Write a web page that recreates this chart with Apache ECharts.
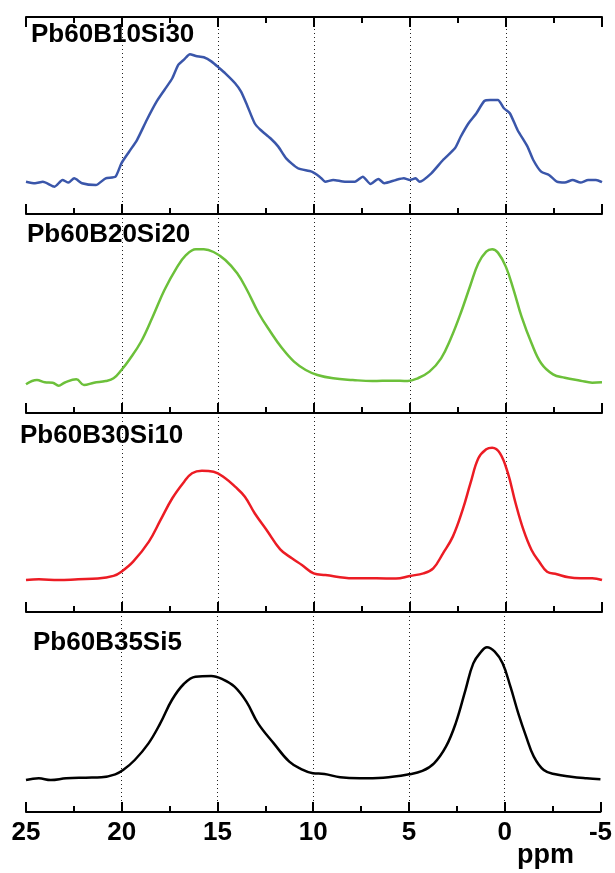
<!DOCTYPE html>
<html>
<head>
<meta charset="utf-8">
<script src="https://cdn.jsdelivr.net/npm/echarts@6/dist/echarts.min.js"></script>
<style>
  html, body { margin: 0; padding: 0; background: #fff; }
  #chart { width: 615px; height: 873px; }
</style>
</head>
<body>
<div id="chart"></div>
<script>
// 样品名称（从上到下）
const samples = ['Pb60B10Si30', 'Pb60B20Si20', 'Pb60B30Si10', 'Pb60B35Si5']
const colors = ['#3a56aa', '#6cc03a', '#ec1c24', '#000000']

// 化学位移 ppm 与强度（任意单位）
const ppm1 = [25, 24.53, 24.12, 23.51, 23.1, 22.79, 22.49, 22.08, 21.36, 20.85, 20.34, 20.03, 19.63, 19.22, 18.71, 18.2, 17.79, 17.38, 17.07, 16.76, 16.46, 16.15, 15.74, 15.33, 14.92, 14.62, 14.11, 13.8, 13.49, 13.09, 12.78, 12.27, 11.86, 11.45, 10.84, 10.12, 9.71, 9.41, 9.0, 8.39, 7.87, 7.46, 7.06, 6.65, 6.34, 5.73, 5.32, 5.01, 4.71, 4.5, 3.89, 3.28, 2.66, 2.36, 1.95, 1.54, 1.13, 0.82, 0.42, 0.11, -0.2, -0.6, -1.12, -1.42, -1.83, -2.24, -2.65, -3.06, -3.47, -3.88, -4.28, -4.69, -5]
const int1 = [0.4, -0.8, 0.4, -3.5, 1.8, -0.3, 3.1, -0.8, -2.2, 3.1, 4.4, 14.9, 24.0, 33.2, 49.0, 63.4, 72.6, 81.8, 92.3, 96.7, 100.7, 99.3, 98.3, 94.9, 89.7, 85.7, 77.9, 71.3, 60.8, 46.4, 41.1, 34.6, 28.0, 18.8, 11.0, 8.3, 4.4, 0.4, 1.8, 0.4, 0.4, 4.4, -1.4, 2.6, -0.8, 1.8, 3.1, 1.8, 3.1, 0.4, 7.0, 17.5, 26.7, 35.8, 46.4, 54.3, 63.9, 64.7, 64.7, 58.2, 54.3, 41.1, 28.0, 17.5, 8.3, 5.7, 0.4, -0.3, 1.8, -0.3, 1.8, 1.8, 0.0]

const ppm2 = [25, 24.43, 24.02, 23.61, 23.3, 23.0, 22.38, 21.98, 21.46, 20.85, 20.44, 20.03, 19.63, 19.01, 18.4, 17.79, 17.17, 16.66, 16.15, 15.74, 15.23, 14.62, 14.0, 13.49, 12.88, 12.27, 11.66, 11.04, 10.43, 9.82, 9.0, 7.98, 6.96, 5.93, 5.12, 4.6, 3.99, 3.38, 2.87, 2.36, 1.85, 1.44, 1.03, 0.72, 0.42, 0.01, -0.4, -0.81, -1.33, -1.83, -2.45, -3.06, -3.88, -4.49, -5]
const int2 = [-2.6, 0.7, -1.1, -1.4, -3.7, -1.4, 1.3, -3.2, -1.4, -0.1, 2.0, 8.5, 16.3, 30.5, 50.0, 70.8, 87.7, 98.1, 102.5, 102.5, 100.4, 94.2, 83.8, 70.8, 52.7, 38.3, 25.4, 15.0, 8.5, 4.6, 2.0, 0.7, -0.1, 0.2, -0.1, 2.0, 7.2, 17.6, 33.2, 52.7, 74.7, 91.6, 100.7, 102.5, 99.9, 89.0, 70.8, 50.0, 29.3, 13.7, 5.1, 2.5, 0.2, -1.4, -1.1]

const ppm3 = [25, 24.33, 23.3, 22.28, 21.26, 20.44, 20.03, 19.42, 18.6, 17.99, 17.38, 16.76, 16.35, 15.84, 15.23, 14.62, 14.11, 13.6, 13.09, 12.47, 11.76, 11.15, 10.63, 10.02, 9.41, 7.98, 6.75, 5.73, 5.01, 4.3, 3.79, 3.28, 2.77, 2.26, 1.85, 1.44, 1.03, 0.72, 0.31, -0.1, -0.5, -0.91, -1.33, -1.73, -2.14, -2.65, -3.26, -3.88, -4.49, -5]
const int3 = [-0.1, 0.5, -0.1, 0.5, 1.0, 3.1, 6.4, 14.2, 29.8, 46.7, 63.6, 76.5, 83.1, 85.1, 84.3, 79.2, 72.6, 64.8, 51.9, 38.9, 23.8, 16.8, 11.6, 5.1, 3.8, 1.3, 1.3, 1.0, 3.1, 5.1, 9.0, 20.7, 33.7, 54.5, 75.3, 94.7, 101.7, 103.0, 98.6, 83.1, 59.7, 38.9, 23.3, 14.2, 6.4, 4.4, 2.0, 1.3, 1.3, -0.1]

const ppm4 = [25, 24.33, 23.71, 22.9, 21.88, 21.06, 20.34, 19.93, 19.32, 18.6, 17.99, 17.38, 16.76, 16.15, 15.33, 14.72, 14.11, 13.49, 12.88, 12.06, 11.25, 10.63, 10.02, 9.41, 8.59, 7.57, 6.34, 5.01, 4.3, 3.69, 3.07, 2.56, 2.05, 1.64, 1.23, 0.93, 0.52, 0.11, -0.3, -0.71, -1.12, -1.52, -2.04, -2.65, -3.47, -4.28, -5]
const int4 = [-0.2, 1.1, -0.2, 1.1, 1.6, 1.9, 4.2, 7.5, 15.3, 28.2, 43.7, 61.8, 74.2, 79.9, 80.4, 77.8, 72.1, 60.5, 43.7, 28.2, 14.0, 8.3, 5.0, 4.5, 1.9, 1.1, 1.6, 4.2, 6.8, 12.7, 25.6, 43.7, 69.5, 90.2, 99.2, 102.6, 99.2, 90.2, 72.1, 51.5, 33.4, 17.9, 7.5, 4.2, 2.3, 1.1, 0.3]

const ppmList = [ppm1, ppm2, ppm3, ppm4]
const intList = [int1, int2, int3, int4]

const chartDom = document.getElementById('chart')
const myChart = echarts.init(chartDom)

const gridTops = [17, 214, 413, 612]
const gridHeights = [197, 199, 199, 200]
const FONT = 'Liberation Sans, Arial, sans-serif'

const grid = gridTops.map((t, i) => ({
  left: 26,
  width: 576,
  top: t,
  height: gridHeights[i]
}))

const baseAxis = {
  type: 'value',
  min: -5,
  max: 25,
  interval: 5,
  inverse: true,
  // 轴线放在框底，不跟随 y=0
  axisLine: { show: true, onZero: false, lineStyle: { color: '#000', width: 2 } },
  axisTick: { show: true, inside: true, length: 10, lineStyle: { color: '#000', width: 2 } },
  minorTick: { show: true, splitNumber: 2, length: 6, lineStyle: { color: '#000', width: 2 } }
}

const xAxis = samples.map((s, i) => ({
  ...baseAxis,
  gridIndex: i,
  position: 'bottom',
  axisLabel: {
    show: i === 3,
    color: '#000',
    fontSize: 26,
    fontWeight: 'bold',
    fontFamily: FONT,
    margin: 8
  },
  splitLine: {
    show: true,
    showMinLine: false,
    showMaxLine: false,
    lineStyle: { color: '#222', width: 1, type: [1, 3] }
  }
}))
// 最上面的框线
xAxis.push({
  ...baseAxis,
  gridIndex: 0,
  position: 'top',
  axisLabel: { show: false },
  splitLine: { show: false }
})

const yAxis = samples.map((s, i) => ({
  type: 'value',
  gridIndex: i,
  min: -25,
  max: 130,
  show: false
}))

const series = samples.map((s, i) => ({
  name: s,
  type: 'line',
  xAxisIndex: i,
  yAxisIndex: i,
  data: ppmList[i].map((p, k) => [p, intList[i][k]]),
  showSymbol: false,
  smooth: i === 0 ? 0.2 : 0.4,
  lineStyle: { color: colors[i], width: 2.5 }
}))

const title = samples.map((s, i) => ({
  text: s,
  left: [31, 27, 20, 33][i],
  top: gridTops[i] + [5, 8, 10, 18][i],
  padding: 0,
  textStyle: { color: '#000', fontSize: 26, fontWeight: 'bold', fontFamily: FONT }
}))

const option = {
  animation: false,
  title: title,
  grid: grid,
  xAxis: xAxis,
  yAxis: yAxis,
  graphic: [{
    type: 'text',
    left: 517,
    top: 842,
    style: { text: 'ppm', fill: '#000', fontSize: 27, fontWeight: 'bold', fontFamily: FONT }
  }],
  series: series
}

myChart.setOption(option)
</script>
</body>
</html>
